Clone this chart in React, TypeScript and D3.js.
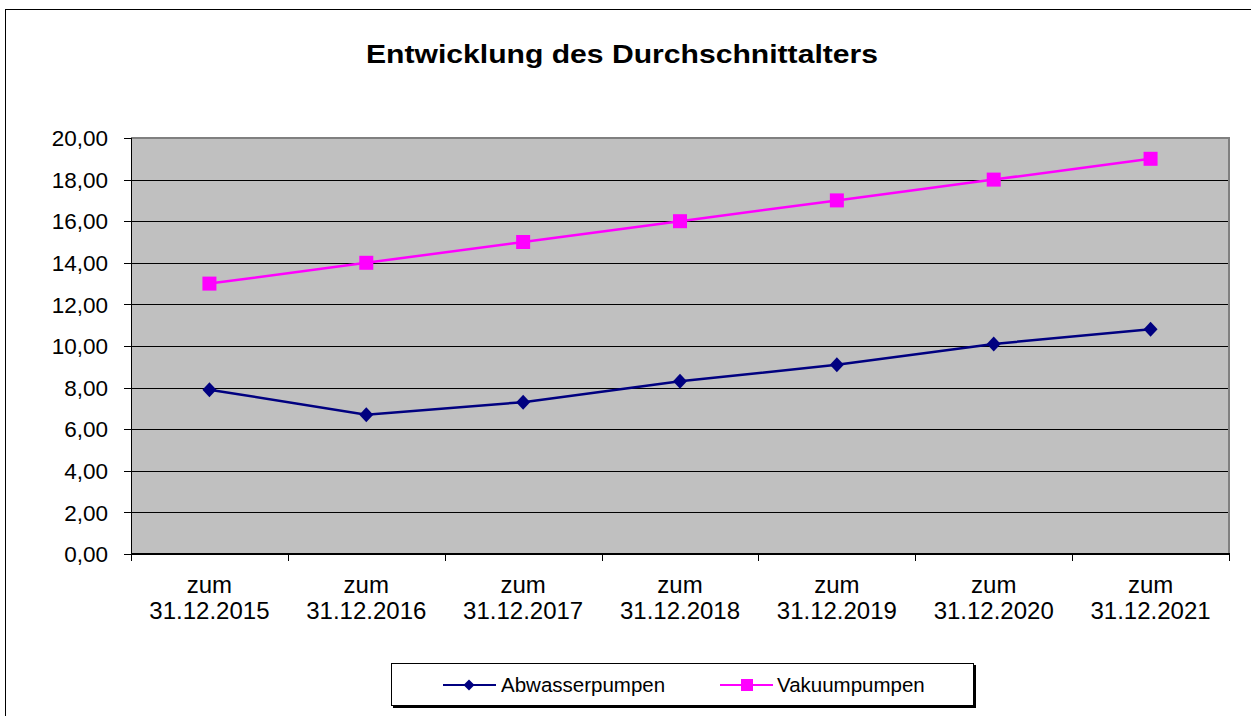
import * as d3 from "d3";

const categories = [
  "31.12.2015",
  "31.12.2016",
  "31.12.2017",
  "31.12.2018",
  "31.12.2019",
  "31.12.2020",
  "31.12.2021",
];
const abwasserpumpen = [7.9, 6.7, 7.3, 8.3, 9.1, 10.1, 10.8];
const vakuumpumpen = [13, 14, 15, 16, 17, 18, 19];
const yTicks = [0, 2, 4, 6, 8, 10, 12, 14, 16, 18, 20];

const W = 1251;
const H = 716;
const plot = { left: 131, right: 1229, top: 138, bottom: 554 };
const font = "Arial, 'Liberation Sans', sans-serif";
const navy = "#000080";
const magenta = "#FF00FF";

export default function App() {
  const x = d3
    .scaleBand<string>()
    .domain(categories)
    .range([plot.left, plot.right])
    .padding(0);
  const y = d3.scaleLinear().domain([0, 20]).range([plot.bottom, plot.top]);
  const cx = (c: string) => (x(c) ?? 0) + x.bandwidth() / 2;

  const line = d3
    .line<number>()
    .x((_, i) => cx(categories[i]))
    .y((d) => y(d));

  const fmt = (v: number) => v.toFixed(2).replace(".", ",");
  const bounds = categories.map((c) => x(c) ?? 0).concat([plot.right]);

  return (
    <svg
      width={W}
      height={H}
      style={{ position: "fixed", left: 0, top: 0, background: "#fff" }}
      fontFamily={font}
    >
      {/* outer frame */}
      <rect x={5.5} y={9.5} width={1400} height={900} fill="#fff" stroke="#000" strokeWidth={1} />

      <text
        x={622}
        y={63}
        textAnchor="middle"
        fontSize={26}
        fontWeight="bold"
        textLength={512}
        lengthAdjust="spacingAndGlyphs"
      >
        Entwicklung des Durchschnittalters
      </text>

      {/* plot area */}
      <rect
        x={plot.left}
        y={plot.top}
        width={plot.right - plot.left}
        height={plot.bottom - plot.top}
        fill="#C0C0C0"
      />
      {yTicks
        .filter((t) => t > 0 && t < 20)
        .map((t) => (
          <line
            key={t}
            x1={plot.left}
            x2={plot.right}
            y1={Math.round(y(t)) + 0.5}
            y2={Math.round(y(t)) + 0.5}
            stroke="#000"
            strokeWidth={1}
          />
        ))}
      <path
        d={`M${plot.left},${plot.top} H${plot.right} V${plot.bottom}`}
        fill="none"
        stroke="#808080"
        strokeWidth={2}
      />
      {/* axes */}
      <line x1={plot.left + 0.5} x2={plot.left + 0.5} y1={plot.top} y2={plot.bottom} stroke="#000" />
      <line x1={plot.left} x2={plot.right + 1} y1={plot.bottom} y2={plot.bottom} stroke="#000" strokeWidth={2} />
      {yTicks.map((t) => (
        <g key={t}>
          <line
            x1={124}
            x2={plot.left}
            y1={Math.round(y(t)) + 0.5}
            y2={Math.round(y(t)) + 0.5}
            stroke="#000"
          />
          <text
            x={108}
            y={y(t)}
            dy="0.36em"
            textAnchor="end"
            fontSize={22.5}
            fill="#000"
          >
            {fmt(t)}
          </text>
        </g>
      ))}
      {bounds.map((b, i) => (
        <line
          key={i}
          x1={Math.round(b) + 0.5}
          x2={Math.round(b) + 0.5}
          y1={plot.bottom}
          y2={plot.bottom + 7}
          stroke="#000"
        />
      ))}
      {categories.map((c) => (
        <g key={c} fontSize={24} textAnchor="middle" fill="#000">
          <text x={cx(c)} y={593}>
            zum
          </text>
          <text x={cx(c)} y={619}>
            {c}
          </text>
        </g>
      ))}

      {/* series */}
      <path d={line(vakuumpumpen) ?? ""} fill="none" stroke={magenta} strokeWidth={2.5} />
      {vakuumpumpen.map((v, i) => (
        <rect key={i} x={cx(categories[i]) - 7} y={y(v) - 7} width={14} height={14} fill={magenta} />
      ))}
      <path d={line(abwasserpumpen) ?? ""} fill="none" stroke={navy} strokeWidth={2.5} />
      {abwasserpumpen.map((v, i) => {
        const px = cx(categories[i]);
        const py = y(v);
        return (
          <path
            key={i}
            d={`M${px},${py - 7.5} L${px + 7},${py} L${px},${py + 7.5} L${px - 7},${py} Z`}
            fill={navy}
          />
        );
      })}

      {/* legend */}
      <rect x={393} y={665} width={583} height={43} fill="#000" />
      <rect x={391.5} y={663.5} width={582} height={42} fill="#fff" stroke="#000" />
      <line x1={443} x2={496} y1={685} y2={685} stroke={navy} strokeWidth={2} />
      <path d="M469,679.5 L474.5,685 L469,690.5 L463.5,685 Z" fill={navy} />
      <text x={501} y={692} fontSize={20.5} fill="#000">
        Abwasserpumpen
      </text>
      <line x1={720} x2={773} y1={685} y2={685} stroke={magenta} strokeWidth={2} />
      <rect x={741} y={679} width={12} height={12} fill={magenta} />
      <text x={777} y={692} fontSize={20.5} fill="#000">
        Vakuumpumpen
      </text>
    </svg>
  );
}
